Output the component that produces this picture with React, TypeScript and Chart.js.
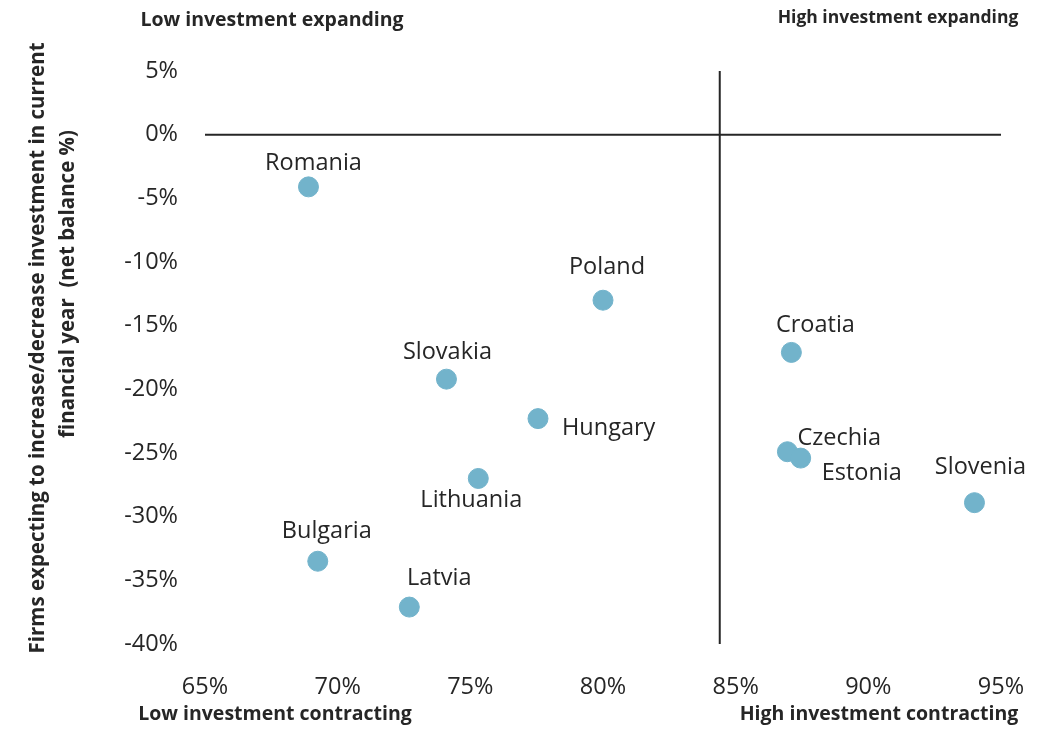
import React, { useEffect, useRef } from "react";
import { Chart, registerables } from "chart.js";

Chart.register(...registerables);

const countries = ["Romania", "Poland", "Slovakia", "Hungary", "Lithuania", "Bulgaria", "Latvia", "Croatia", "Czechia", "Estonia", "Slovenia"];
const highInvestmentShare = [68.9, 80.0, 74.1, 77.55, 75.3, 69.25, 72.7, 87.1, 86.95, 87.45, 94.0];
const netBalance = [-4.1, -13.0, -19.2, -22.3, -27.0, -33.5, -37.1, -17.1, -24.9, -25.4, -28.9];

const xTicks = [65, 70, 75, 80, 85, 90, 95];
const yTicks = [5, 0, -5, -10, -15, -20, -25, -30, -35, -40];

const quadrantX = 84.4;
const quadrantY = 0;

const yTitleLines = ["Firms expecting to increase/decrease investment in current", "financial year  (net balance %)"];

// label placement styling (offsets from point, px)
const labelStyle: Record<string, { dx: number; dy: number; align: CanvasTextAlign }> = {
  Romania: { dx: 5, dy: -24, align: "center" },
  Poland: { dx: 4, dy: -33, align: "center" },
  Slovakia: { dx: 1, dy: -27, align: "center" },
  Hungary: { dx: 24, dy: 10, align: "left" },
  Lithuania: { dx: -7, dy: 22, align: "center" },
  Bulgaria: { dx: 9, dy: -30, align: "center" },
  Latvia: { dx: 30, dy: -29, align: "center" },
  Croatia: { dx: 24, dy: -27, align: "center" },
  Czechia: { dx: 10, dy: -13, align: "left" },
  Estonia: { dx: 21, dy: 15, align: "left" },
  Slovenia: { dx: 6, dy: -35, align: "center" },
};

const FONT = "'Open Sans', 'Noto Sans', sans-serif";
const TEXT = "#262626";

export default function App() {
  const ref = useRef<HTMLCanvasElement | null>(null);

  useEffect(() => {
    if (!ref.current) return;
    const points = countries.map((_, i) => ({ x: highInvestmentShare[i], y: netBalance[i] }));

    const overlay = {
      id: "overlay",
      afterDatasetsDraw(chart: any) {
        const ctx = chart.ctx as CanvasRenderingContext2D;
        const meta = chart.getDatasetMeta(2);
        ctx.save();
        ctx.fillStyle = TEXT;
        ctx.font = `23.5px ${FONT}`;
        ctx.textBaseline = "middle";
        meta.data.forEach((el: any, i: number) => {
          const s = labelStyle[countries[i]];
          ctx.textAlign = s.align;
          ctx.fillText(countries[i], el.x + s.dx, el.y + s.dy);
        });
        // corner labels
        ctx.font = `bold 19.5px ${FONT}`;
        ctx.textAlign = "center";
        ctx.fillText("Low investment expanding", 272, 20);
        ctx.fillText("Low investment contracting", 275, 714);
        ctx.fillText("High investment contracting", 879, 714);
        ctx.font = `bold 17.5px ${FONT}`;
        ctx.fillText("High investment expanding", 898, 18);
        // y title
        ctx.font = `bold 20.5px ${FONT}`;
        ctx.translate(38, 0);
        ctx.rotate(-Math.PI / 2);
        ctx.fillText(yTitleLines[0], -348, 0);
        ctx.fillText(yTitleLines[1], -284, 30);
        ctx.restore();
      },
    };

    const chart = new Chart(ref.current, {
      type: "scatter",
      data: {
        datasets: [
          {
            type: "line",
            data: [{ x: quadrantX, y: 5 }, { x: quadrantX, y: -40 }],
            borderColor: "#262626",
            borderWidth: 2,
            pointRadius: 0,
            showLine: true,
          } as any,
          {
            type: "line",
            data: [{ x: 65, y: quadrantY }, { x: 95, y: quadrantY }],
            borderColor: "#262626",
            borderWidth: 2,
            pointRadius: 0,
            showLine: true,
          } as any,
          {
            data: points,
            backgroundColor: "#72B3CB",
            borderColor: "#72B3CB",
            pointRadius: 10,
            pointHoverRadius: 10,
          },
        ],
      },
      options: {
        animation: false,
        responsive: false,
        events: [],
        layout: { padding: { top: 71, right: 47, bottom: 0, left: 0 } },
        plugins: { legend: { display: false }, tooltip: { enabled: false } },
        scales: {
          x: {
            type: "linear",
            min: 65,
            max: 95,
            afterFit: (s: any) => { s.height = 86; s.paddingRight = 0; s.paddingLeft = 0; },
            afterBuildTicks: (s: any) => { s.ticks = xTicks.map((v) => ({ value: v })); },
            grid: { display: false, drawTicks: false },
            border: { display: false },
            ticks: {
              padding: 29,
              color: TEXT,
              maxRotation: 0,
              font: { family: FONT, size: 23.5 },
              callback: (v: any) => `${v}%`,
            },
          },
          y: {
            type: "linear",
            min: -40,
            max: 5,
            afterFit: (s: any) => { s.width = 205; s.paddingTop = 0; s.paddingBottom = 0; },
            afterBuildTicks: (s: any) => { s.ticks = yTicks.map((v) => ({ value: v })); },
            grid: { display: false, drawTicks: false },
            border: { display: false },
            ticks: {
              padding: 27,
              color: TEXT,
              font: { family: FONT, size: 23.5 },
              callback: (v: any) => `${v}%`,
            },
          },
        },
      },
      plugins: [overlay],
    });
    return () => chart.destroy();
  }, []);

  return (
    <div style={{ position: "fixed", left: 0, top: 0, width: 1048, height: 730, background: "#fff" }}>
      <canvas ref={ref} width={1048} height={730} style={{ width: 1048, height: 730 }} />
    </div>
  );
}
